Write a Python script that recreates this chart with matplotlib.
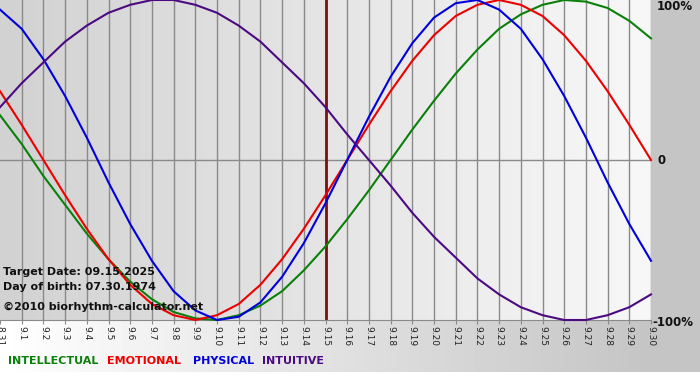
import numpy as np
import matplotlib
matplotlib.use("Agg")
import matplotlib.pyplot as plt
from matplotlib.colors import LinearSegmentedColormap

# days shown: 08.31 .. 09.30
days = ["8.31"] + [f"9.{d}" for d in range(1, 31)]

physical = [0.94, 0.82, 0.63, 0.40, 0.14, -0.14, -0.40, -0.63, -0.82, -0.94, -1.00,
            -0.98, -0.89, -0.73, -0.52, -0.27, 0.00, 0.27, 0.52, 0.73, 0.89,
            0.98, 1.00, 0.94, 0.82, 0.63, 0.40, 0.14, -0.14, -0.40, -0.63]
emotional = [0.43, 0.22, 0.00, -0.22, -0.43, -0.62, -0.78, -0.90, -0.97, -1.00, -0.97,
             -0.90, -0.78, -0.62, -0.43, -0.22, 0.00, 0.22, 0.43, 0.62, 0.78,
             0.90, 0.97, 1.00, 0.97, 0.90, 0.78, 0.62, 0.43, 0.22, 0.00]
intellectual = [0.28, 0.10, -0.10, -0.28, -0.46, -0.62, -0.76, -0.87, -0.95, -0.99, -1.00,
                -0.97, -0.91, -0.82, -0.69, -0.54, -0.37, -0.19, 0.00, 0.19, 0.37,
                0.54, 0.69, 0.82, 0.91, 0.97, 1.00, 0.99, 0.95, 0.87, 0.76]
intuitive = [0.33, 0.48, 0.61, 0.74, 0.84, 0.92, 0.97, 1.00, 1.00, 0.97, 0.92,
             0.84, 0.74, 0.61, 0.48, 0.33, 0.16, 0.00, -0.16, -0.33, -0.48,
             -0.61, -0.74, -0.84, -0.92, -0.97, -1.00, -1.00, -0.97, -0.92, -0.84]
target_idx = 15

series = [
    ("INTELLECTUAL", intellectual, "#0a800a"),
    ("EMOTIONAL", emotional, "#ee0000"),
    ("PHYSICAL", physical, "#0000dd"),
    ("INTUITIVE", intuitive, "#4b0a82"),
]

W, H = 700, 380
fig = plt.figure(figsize=(W / 100, H / 100), dpi=100)

# figure background: gray on right, white->gray gradient in bottom strip
bg = fig.add_axes([0, 0, 1, 1], zorder=0)
bg.set_axis_off()
img = np.full((H, W), 0.77)
xs = np.arange(W)
grad = 1.0 - (1.0 - 0.77) * np.clip(xs / 650, 0, 1)
img[320:372, :] = grad
img[372:, :] = 1.0
bg.imshow(img, cmap="gray", vmin=0, vmax=1, extent=[0, W, H, 0], aspect="auto",
          interpolation="nearest")
bg.set_xlim(0, W)
bg.set_ylim(H, 0)

ax = fig.add_axes([0, 60 / H, 651 / W, 320 / H], zorder=1)
x = np.arange(len(days))
ax.set_xlim(0, 30)
ax.set_ylim(-1.0, 1.0)

cmap = LinearSegmentedColormap.from_list("bgc", ["#d2d2d2", "#f8f8f8"])
ax.imshow(np.linspace(0, 1, 256)[None, :], cmap=cmap, extent=[0, 30, -1, 1],
          aspect="auto", zorder=0)

for i in x[1:]:
    ax.axvline(i, color="#8a8a8a", lw=1, zorder=1)
ax.axhline(0, color="#8a8a8a", lw=1, zorder=1)
ax.axvline(target_idx, color="#7a1010", lw=2, zorder=2)

for name, vals, col in series:
    ax.plot(x, vals, color=col, lw=1.5, zorder=3, clip_on=False)

for s in ["top", "left", "right"]:
    ax.spines[s].set_visible(False)
ax.spines["bottom"].set_color("#8a8a8a")
ax.set_yticks([])
ax.set_xticks(x)
ax.set_xticklabels(days, rotation=270, fontsize=6.5, color="#222222")
ax.tick_params(axis="x", length=3, color="#8a8a8a", pad=1)

# right side percent labels
fig.text(657 / W, 1 - 7 / H, "100%", fontsize=8.5, fontweight="bold", va="center",
         ha="left", color="#111111")
fig.text(657 / W, 1 - 161 / H, "0", fontsize=8.5, fontweight="bold", va="center",
         ha="left", color="#111111")
fig.text(652 / W, 1 - 322 / H, "-100%", fontsize=8.5, fontweight="bold", va="center",
         ha="left", color="#111111")

# info text
info = ["Target Date: 09.15.2025", "Day of birth: 07.30.1974"]
for j, t in enumerate(info):
    fig.text(3 / W, 1 - (272 + 15 * j) / H, t, fontsize=8, fontweight="bold",
             va="center", ha="left", color="#111111", zorder=5)
fig.text(3 / W, 1 - 307 / H, "\u00a92010 biorhythm-calculator.net", fontsize=8,
         fontweight="bold", va="center", ha="left", color="#111111", zorder=5)

# legend text
leg_x = [8, 107, 193, 262]
for (name, vals, col), lx in zip(series, leg_x):
    fig.text(lx / W, 1 - 361 / H, name, fontsize=8, color=col, va="center",
             ha="left", fontweight="bold")

fig.savefig("out.png", dpi=100)
